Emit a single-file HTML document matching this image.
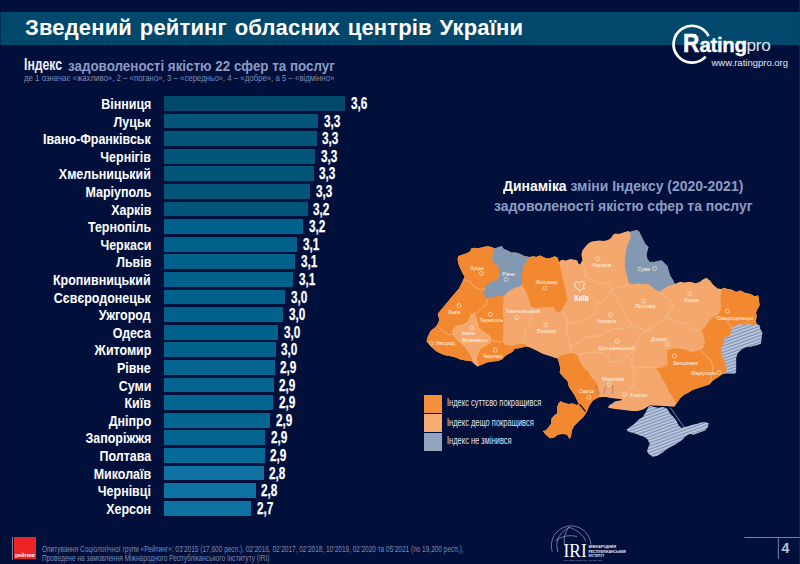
<!DOCTYPE html>
<html lang="uk"><head><meta charset="utf-8"><title>Зведений рейтинг обласних центрів України</title>
<style>
*{margin:0;padding:0;box-sizing:border-box}
html,body{width:800px;height:564px;overflow:hidden;background:#010f3b}
body{position:relative;font-family:"Liberation Sans",Arial,sans-serif;color:#fff}
.abs{position:absolute;white-space:nowrap;line-height:1}
#band{position:absolute;left:0;top:12px;width:800px;height:32.5px;background:#02486c}
#title{position:absolute;left:25px;top:17.2px;font-size:22px;font-weight:bold;line-height:1;letter-spacing:0.15px;word-spacing:1.6px;white-space:nowrap}
.bar{position:absolute;left:164px;height:14.8px}
.nm{position:absolute;right:649px;font-size:15px;font-weight:bold;line-height:1;white-space:nowrap;transform:scaleX(0.83);transform-origin:right center}
.vl{position:absolute;font-size:16px;font-weight:bold;line-height:1;white-space:nowrap;transform:scaleX(0.735);transform-origin:left center;-webkit-text-stroke:0.25px #fff}
.sx{display:inline-block;transform-origin:left center}
</style></head><body>
<div id="band"></div>
<div id="title">Зведений рейтинг обласних центрів України</div>
<div class="abs" style="left:24px;top:57px;font-size:16px;font-weight:bold;color:#eef0f6"><span class="sx" style="transform:scaleX(0.765)">Індекс</span></div>
<div class="abs" style="left:68px;top:57.6px;font-size:15px;font-weight:bold;color:#8c9bc3"><span class="sx" style="transform:scaleX(0.893)">задоволеності якістю 22 сфер та послуг</span></div>
<div class="abs" style="left:24px;top:74px;font-size:9px;color:#7f8db5"><span class="sx" style="transform:scaleX(0.87)">де 1 означає «жахливо», 2 – «погано», 3 – «середньо», 4 – «добре», а 5 – «відмінно»</span></div>
<div class="bar" style="top:96.0px;width:181.2px;background:rgb(1, 72, 107)"></div>
<div class="nm" style="top:95.95px">Вінниця</div>
<div class="vl" style="top:95.90px;left:350.8px">3,6</div>
<div class="bar" style="top:113.6px;width:153.9px;background:rgb(2, 85, 121)"></div>
<div class="nm" style="top:113.55px">Луцьк</div>
<div class="vl" style="top:113.50px;left:323.5px">3,3</div>
<div class="bar" style="top:131.2px;width:152.5px;background:rgb(2, 85, 121)"></div>
<div class="nm" style="top:131.15px">Івано-Франківськ</div>
<div class="vl" style="top:131.10px;left:322.1px">3,3</div>
<div class="bar" style="top:148.8px;width:151.1px;background:rgb(2, 85, 121)"></div>
<div class="nm" style="top:148.75px">Чернігів</div>
<div class="vl" style="top:148.70px;left:320.7px">3,3</div>
<div class="bar" style="top:166.4px;width:149.5px;background:rgb(2, 85, 121)"></div>
<div class="nm" style="top:166.35px">Хмельницький</div>
<div class="vl" style="top:166.30px;left:319.1px">3,3</div>
<div class="bar" style="top:184.0px;width:146.2px;background:rgb(2, 85, 121)"></div>
<div class="nm" style="top:183.95px">Маріуполь</div>
<div class="vl" style="top:183.90px;left:315.8px">3,3</div>
<div class="bar" style="top:201.6px;width:143.6px;background:rgb(2, 85, 121)"></div>
<div class="nm" style="top:201.55px">Харків</div>
<div class="vl" style="top:201.50px;left:313.2px">3,2</div>
<div class="bar" style="top:219.2px;width:139.0px;background:rgb(2, 97, 139)"></div>
<div class="nm" style="top:219.15px">Тернопіль</div>
<div class="vl" style="top:219.10px;left:308.6px">3,2</div>
<div class="bar" style="top:236.8px;width:133.0px;background:rgb(2, 97, 139)"></div>
<div class="nm" style="top:236.75px">Черкаси</div>
<div class="vl" style="top:236.70px;left:302.6px">3,1</div>
<div class="bar" style="top:254.4px;width:131.0px;background:rgb(2, 97, 139)"></div>
<div class="nm" style="top:254.35px">Львів</div>
<div class="vl" style="top:254.30px;left:300.6px">3,1</div>
<div class="bar" style="top:272.0px;width:128.9px;background:rgb(2, 97, 139)"></div>
<div class="nm" style="top:271.95px">Кропивницький</div>
<div class="vl" style="top:271.90px;left:298.5px">3,1</div>
<div class="bar" style="top:289.6px;width:121.2px;background:rgb(2, 97, 139)"></div>
<div class="nm" style="top:289.55px">Сєвєродонецьк</div>
<div class="vl" style="top:289.50px;left:290.8px">3,0</div>
<div class="bar" style="top:307.2px;width:118.9px;background:rgb(2, 97, 139)"></div>
<div class="nm" style="top:307.15px">Ужгород</div>
<div class="vl" style="top:307.10px;left:288.5px">3,0</div>
<div class="bar" style="top:324.8px;width:114.0px;background:rgb(2, 97, 139)"></div>
<div class="nm" style="top:324.75px">Одеса</div>
<div class="vl" style="top:324.70px;left:283.6px">3,0</div>
<div class="bar" style="top:342.4px;width:111.5px;background:rgb(2, 97, 139)"></div>
<div class="nm" style="top:342.35px">Житомир</div>
<div class="vl" style="top:342.30px;left:281.1px">3,0</div>
<div class="bar" style="top:360.0px;width:110.8px;background:rgb(4, 101, 145)"></div>
<div class="nm" style="top:359.95px">Рівне</div>
<div class="vl" style="top:359.90px;left:280.4px">2,9</div>
<div class="bar" style="top:377.6px;width:109.5px;background:rgb(4, 101, 145)"></div>
<div class="nm" style="top:377.55px">Суми</div>
<div class="vl" style="top:377.50px;left:279.1px">2,9</div>
<div class="bar" style="top:395.2px;width:109.3px;background:rgb(4, 101, 145)"></div>
<div class="nm" style="top:395.15px">Київ</div>
<div class="vl" style="top:395.10px;left:278.9px">2,9</div>
<div class="bar" style="top:412.8px;width:106.4px;background:rgb(4, 101, 145)"></div>
<div class="nm" style="top:412.75px">Дніпро</div>
<div class="vl" style="top:412.70px;left:276.0px">2,9</div>
<div class="bar" style="top:430.4px;width:100.9px;background:rgb(4, 101, 145)"></div>
<div class="nm" style="top:430.35px">Запоріжжя</div>
<div class="vl" style="top:430.30px;left:270.5px">2,9</div>
<div class="bar" style="top:448.0px;width:100.6px;background:rgb(6, 106, 152)"></div>
<div class="nm" style="top:447.95px">Полтава</div>
<div class="vl" style="top:447.90px;left:270.2px">2,9</div>
<div class="bar" style="top:465.6px;width:99.7px;background:rgb(15, 114, 163)"></div>
<div class="nm" style="top:465.55px">Миколаїв</div>
<div class="vl" style="top:465.50px;left:269.3px">2,8</div>
<div class="bar" style="top:483.2px;width:91.6px;background:rgb(15, 114, 163)"></div>
<div class="nm" style="top:483.15px">Чернівці</div>
<div class="vl" style="top:483.10px;left:261.2px">2,8</div>
<div class="bar" style="top:500.8px;width:87.1px;background:rgb(15, 114, 163)"></div>
<div class="nm" style="top:500.75px">Херсон</div>
<div class="vl" style="top:500.70px;left:256.7px">2,7</div><!-- Rating pro logo -->
<svg width="800" height="564" viewBox="0 0 800 564" style="position:absolute;left:0;top:0">
<path d="M708.6,36.2 A18.45,18.45 0 1 0 705.65,56.67" fill="none" stroke="#fff" stroke-width="2.7"/>
</svg>
<div class="abs" style="left:683.4px;top:30.9px;font-size:25px;font-weight:bold;color:#fff;-webkit-text-stroke:0.5px #fff"><span class="sx" style="transform:scaleX(0.9)">R</span></div>
<div class="abs" style="left:699.6px;top:34.7px;font-size:20.5px;font-weight:bold;color:#fff;letter-spacing:-0.4px;-webkit-text-stroke:0.35px #fff">ating</div>
<div class="abs" style="left:746.6px;top:36.8px;font-size:17.2px;color:#dde2ec;letter-spacing:-0.3px">pro</div>
<div class="abs" style="left:711.5px;top:58.2px;font-size:9.5px;color:#e4e8f0">www.ratingpro.org</div>
<!-- map title -->
<div class="abs" style="left:503px;top:178px;font-size:15.5px;font-weight:bold;color:#fff"><span class="sx" style="transform:scaleX(0.9)">Динаміка <span style="color:#8d9cc2">зміни Індексу (2020-2021)</span></span></div>
<div class="abs" style="left:494px;top:198.4px;font-size:15.5px;font-weight:bold;color:#8d9cc2"><span class="sx" style="transform:scaleX(0.9)">задоволеності якістю сфер та послуг</span></div>
<svg width="800" height="564" viewBox="0 0 800 564" style="position:absolute;left:0;top:0">
<defs><pattern id="st" width="10" height="3" patternUnits="userSpaceOnUse" patternTransform="rotate(-20)"><rect width="10" height="3" fill="#c2cfe3"/><rect y="1.6" width="10" height="1.4" fill="#8193b5"/></pattern></defs>
<path d="M471.1,248.5 L474.6,247.8 L478.2,248.5 L483.2,247.1 L487.4,246.3 L491.7,247.1 L494.5,248.5 L497.3,247.8 L501.6,246.3 L503.7,249.2 L507.3,250.6 L511.5,252.7 L515.8,252.7 L520.0,254.1 L524.3,256.3 L528.5,257.0 L533.4,256.3 L536.3,257.0 L539.8,255.6 L543.4,257.0 L546.9,258.4 L551.2,257.7 L554.7,256.3 L557.6,257.7 L559.0,262.0 L561.8,259.8 L566.1,260.5 L570.3,259.1 L574.6,259.8 L577.4,260.5 L578.2,263.3 L580.3,264.4 L582.4,260.1 L581.4,254.8 L582.4,250.5 L585.6,246.3 L588.8,243.1 L592.0,241.5 L595.2,241.0 L599.5,240.4 L603.7,241.0 L608.0,239.9 L611.2,237.8 L613.3,234.6 L615.4,233.5 L618.6,234.0 L621.8,233.0 L625.0,231.9 L628.2,230.9 L630.3,231.9 L633.5,230.9 L636.7,230.3 L638.8,231.4 L641.0,235.6 L643.1,239.9 L645.2,244.1 L648.4,247.3 L647.3,250.5 L646.3,254.8 L647.3,259.0 L649.5,262.2 L654.6,262.0 L661.7,260.5 L664.6,263.4 L667.4,266.2 L668.8,271.9 L670.2,276.1 L673.1,280.4 L674.5,283.9 L680.2,281.8 L684.4,282.5 L690.1,281.8 L695.8,283.2 L700.0,281.8 L702.0,279.9 L706.3,277.8 L709.9,280.6 L713.4,284.9 L717.7,288.4 L721.9,289.1 L723.4,287.7 L727.6,289.1 L731.9,289.8 L736.1,292.0 L740.4,290.5 L744.7,292.7 L750.3,294.1 L754.6,296.2 L758.2,295.5 L758.9,299.8 L759.6,305.5 L757.4,309.0 L756.0,312.6 L756.7,316.1 L755.9,320.7 L756.6,324.2 L759.4,325.6 L760.1,329.2 L762.2,332.7 L761.5,336.3 L760.8,343.4 L757.3,344.8 L751.6,346.2 L745.9,346.9 L741.7,349.0 L737.4,353.3 L736.0,357.6 L736.0,363.2 L736.0,368.9 L735.3,373.2 L726.1,373.2 L721.8,374.6 L717.6,377.4 L713.3,380.2 L709.0,384.5 L704.8,385.9 L700.5,387.3 L696.3,388.8 L692.0,390.2 L687.8,393.0 L684.4,394.5 L680.1,398.2 L677.3,402.5 L674.4,406.7 L668.0,406.3 L660.0,405.8 L653.0,405.4 L650.3,405.3 L647.5,406.7 L643.2,409.6 L637.6,411.0 L631.9,411.0 L622.2,409.8 L615.1,409.1 L608.0,407.7 L609.4,404.9 L612.3,403.4 L615.1,401.3 L620.8,400.6 L622.2,399.2 L615.1,398.5 L609.4,397.8 L606.6,397.1 L599.5,397.3 L598.5,397.5 L595.5,399.0 L592.5,401.0 L589.5,405.5 L586.7,412.0 L583.9,416.2 L579.6,420.5 L576.8,423.3 L574.0,426.1 L571.8,430.4 L571.1,436.1 L569.7,438.9 L566.9,434.6 L562.6,433.9 L558.4,434.6 L554.1,437.5 L549.9,438.2 L545.6,434.6 L542.8,431.1 L545.6,430.4 L548.4,427.6 L551.3,423.3 L551.3,419.0 L554.1,415.5 L557.0,413.4 L557.0,407.7 L558.4,403.4 L560.5,401.3 L564.0,402.7 L568.3,404.1 L572.6,403.4 L576.8,404.9 L578.8,403.8 L577.4,401.0 L574.6,395.3 L571.7,391.1 L568.9,386.8 L567.5,381.1 L563.2,376.9 L559.7,372.6 L560.4,368.4 L559.0,362.7 L557.6,358.4 L554.7,357.7 L550.5,356.3 L546.2,354.9 L542.0,353.5 L536.3,350.6 L530.6,347.8 L526.3,346.4 L518.8,348.2 L514.6,348.7 L512.4,351.9 L508.2,354.0 L505.0,356.2 L501.8,359.4 L497.6,361.0 L492.2,361.5 L486.9,362.6 L481.6,364.7 L477.9,366.3 L474.1,363.6 L471.0,361.0 L465.6,360.4 L460.3,359.4 L455.0,357.2 L452.1,356.6 L444.1,355.0 L437.0,351.8 L431.4,347.0 L429.0,343.8 L426.6,341.4 L427.4,337.4 L430.6,331.0 L434.6,327.8 L437.0,325.5 L439.4,319.9 L437.8,314.3 L438.6,312.7 L444.1,306.3 L451.3,297.5 L459.0,288.5 L463.3,279.7 L464.7,276.8 L462.6,273.3 L459.8,267.6 L458.3,263.4 L457.6,259.1 L458.3,256.3 L461.2,254.9 L466.1,253.4 L470.4,251.3 Z" fill="#f4a86e"/>
<path d="M529.2,257.7 L524.9,263.4 L522.8,270.5 L521.7,275.3 L522.1,280.6 L521.7,285.1 L518.1,286.8 L515.5,287.3 L511.9,289.1 L508.4,291.3 L505.7,293.9 L503.9,295.7 L503.5,300.1 L503.0,305.5 L502.6,309.9 L503.0,314.3 L503.5,320.0 L503.4,330.6 L502.9,341.3 L503.9,344.5 L508.2,345.5 L512.4,345.5 L516.7,344.5 L521.0,343.9 L525.2,343.4 L526.3,346.4 L518.8,348.2 L514.6,348.7 L512.4,351.9 L508.2,354.0 L505.0,356.2 L501.8,359.4 L497.6,361.0 L492.2,361.5 L486.9,362.6 L481.6,364.7 L477.9,366.3 L474.1,363.6 L471.0,361.0 L465.6,360.4 L460.3,359.4 L455.0,357.2 L452.1,356.6 L444.1,355.0 L437.0,351.8 L431.4,347.0 L429.0,343.8 L426.6,341.4 L427.4,337.4 L430.6,331.0 L434.6,327.8 L437.0,325.5 L439.4,319.9 L437.8,314.3 L438.6,312.7 L444.1,306.3 L451.3,297.5 L459.0,288.5 L463.3,279.7 L464.7,276.8 L462.6,273.3 L459.8,267.6 L458.3,263.4 L457.6,259.1 L458.3,256.3 L461.2,254.9 L466.1,253.4 L470.4,251.3 L471.1,248.5 L474.6,247.8 L478.2,248.5 L483.2,247.1 L487.4,246.3 L491.7,247.1 L494.5,248.5 L497.3,247.8 L501.6,246.3 L503.7,249.2 L507.3,250.6 L511.5,252.7 L515.8,252.7 L520.0,254.1 L524.3,256.3 L528.5,257.0 Z" fill="#f28930"/>
<path d="M471.1,314.3 L474.2,313.7 L476.0,318.0 L477.3,322.4 L478.5,327.3 L482.2,331.1 L486.0,333.5 L489.7,336.0 L490.9,339.8 L489.7,342.9 L484.7,346.0 L481.0,348.4 L478.5,350.9 L477.3,354.7 L476.0,358.4 L477.3,362.1 L477.9,366.3 L474.1,363.6 L472.3,358.4 L469.8,353.4 L467.3,349.7 L464.2,346.0 L461.1,342.9 L457.4,339.8 L453.7,336.0 L452.4,332.3 L453.7,328.6 L457.4,326.1 L462.4,324.8 L467.3,322.4 L469.8,318.6 Z" fill="#f4a86e" stroke="#f8c9a2" stroke-width="0.5"/>
<path d="M494.5,248.5 L497.3,247.8 L501.6,246.3 L503.7,249.2 L507.3,250.6 L511.5,252.7 L515.8,252.7 L520.0,254.1 L524.3,256.3 L528.5,257.0 L529.2,257.7 L524.9,263.4 L522.8,270.5 L521.7,275.3 L522.1,280.6 L521.7,285.1 L518.1,286.8 L515.5,287.3 L511.9,289.1 L508.4,291.3 L505.7,293.9 L503.9,295.7 L500.4,294.8 L497.7,295.3 L494.2,296.6 L490.6,297.5 L488.0,298.4 L486.2,297.5 L484.4,294.8 L484.4,292.2 L485.3,288.6 L485.3,286.0 L488.9,283.3 L493.3,281.5 L497.7,280.6 L498.6,278.0 L499.5,273.5 L499.5,269.0 L498.8,265.5 L494.5,263.4 L492.4,259.1 L493.1,252.0 Z" fill="#8398b2" stroke="#8398b2" stroke-width="0.4"/>
<path d="M529.2,257.7 L533.4,256.3 L536.3,257.0 L539.8,255.6 L543.4,257.0 L546.9,258.4 L551.2,257.7 L554.7,256.3 L557.6,257.7 L559.0,262.0 L560.4,267.6 L561.8,274.7 L563.2,280.0 L564.6,285.7 L566.0,292.8 L567.4,299.9 L566.0,302.7 L563.2,307.0 L561.7,310.5 L558.9,312.6 L556.1,311.9 L553.9,307.0 L547.6,307.0 L537.6,307.7 L531.4,307.2 L530.1,304.6 L529.2,300.1 L527.9,295.7 L526.1,291.3 L523.4,287.7 L521.7,285.1 L522.1,280.6 L521.7,275.3 L522.8,270.5 L524.9,263.4 Z" fill="#f28930"/>
<path d="M557.6,358.4 L560.0,355.5 L566.4,353.9 L571.7,352.9 L573.8,353.4 L577.0,355.5 L578.6,358.7 L580.2,361.9 L582.3,366.2 L585.5,369.4 L588.7,371.5 L589.8,374.7 L591.9,377.9 L594.5,380.5 L597.2,383.5 L598.3,388.0 L598.6,393.0 L598.5,397.5 L595.5,399.0 L592.5,401.0 L589.5,405.5 L586.7,412.0 L583.9,416.2 L579.6,420.5 L576.8,423.3 L574.0,426.1 L571.8,430.4 L571.1,436.1 L569.7,438.9 L566.9,434.6 L562.6,433.9 L558.4,434.6 L554.1,437.5 L549.9,438.2 L545.6,434.6 L542.8,431.1 L545.6,430.4 L548.4,427.6 L551.3,423.3 L551.3,419.0 L554.1,415.5 L557.0,413.4 L557.0,407.7 L558.4,403.4 L560.5,401.3 L564.0,402.7 L568.3,404.1 L572.6,403.4 L576.8,404.9 L578.8,403.8 L577.4,401.0 L574.6,395.3 L571.7,391.1 L568.9,386.8 L567.5,381.1 L563.2,376.9 L559.7,372.6 L560.4,368.4 L559.0,362.7 L557.6,358.4 Z" fill="#f28930"/>
<path d="M656.0,368.4 L661.7,367.7 L668.0,364.2 L667.3,361.3 L667.3,350.0 L675.0,348.3 L680.7,349.0 L686.3,349.8 L690.6,351.9 L696.3,351.2 L700.5,349.8 L704.1,347.6 L704.8,342.0 L703.4,334.9 L701.2,329.2 L703.5,329.6 L706.3,325.3 L709.1,321.1 L713.4,316.8 L717.7,314.7 L720.5,311.1 L721.2,305.5 L720.5,296.9 L721.9,289.1 L723.4,287.7 L727.6,289.1 L731.9,289.8 L736.1,292.0 L740.4,290.5 L744.7,292.7 L750.3,294.1 L754.6,296.2 L758.2,295.5 L758.9,299.8 L759.6,305.5 L757.4,309.0 L756.0,312.6 L756.7,316.1 L755.9,320.7 L756.6,324.2 L751.6,325.6 L747.3,322.8 L743.1,325.6 L740.2,323.5 L737.4,325.6 L731.7,327.8 L731.7,333.4 L728.9,336.3 L724.6,337.7 L723.9,343.4 L721.1,349.0 L722.5,356.1 L724.6,360.4 L726.8,367.5 L726.1,373.2 L721.8,374.6 L717.6,377.4 L713.3,380.2 L709.0,384.5 L704.8,385.9 L700.5,387.3 L696.3,388.8 L692.0,390.2 L687.8,393.0 L684.4,394.5 L680.1,398.2 L677.3,402.5 L674.4,406.7 L675.9,403.9 L674.4,399.6 L671.6,395.4 L668.8,391.1 L667.3,386.9 L664.5,382.6 L661.7,378.4 L660.2,374.1 Z" fill="#f28930"/>
<path d="M731.7,327.8 L737.4,325.6 L740.2,323.5 L743.1,325.6 L747.3,322.8 L751.6,325.6 L756.6,324.2 L759.4,325.6 L760.1,329.2 L762.2,332.7 L761.5,336.3 L760.8,343.4 L757.3,344.8 L751.6,346.2 L745.9,346.9 L741.7,349.0 L737.4,353.3 L736.0,357.6 L736.0,363.2 L736.0,368.9 L735.3,373.2 L726.1,373.2 L726.8,367.5 L724.6,360.4 L722.5,356.1 L721.1,349.0 L723.9,343.4 L724.6,337.7 L728.9,336.3 L731.7,333.4 Z" fill="url(#st)" stroke="#9fb0cb" stroke-width="0.4"/>
<path d="M630.3,231.9 L633.5,230.9 L636.7,230.3 L638.8,231.4 L641.0,235.6 L643.1,239.9 L645.2,244.1 L648.4,247.3 L647.3,250.5 L646.3,254.8 L647.3,259.0 L649.5,262.2 L654.6,262.0 L661.7,260.5 L664.6,263.4 L667.4,266.2 L668.8,271.9 L670.2,276.1 L673.1,280.4 L674.5,283.9 L667.4,286.1 L663.2,288.9 L658.9,291.7 L656.1,290.3 L653.2,287.5 L647.6,283.2 L643.3,283.9 L637.6,283.2 L633.4,283.9 L629.1,283.2 L628.2,280.3 L627.1,275.0 L625.5,269.7 L625.0,263.3 L625.5,256.9 L626.1,251.6 L627.1,246.3 L630.9,237.8 Z" fill="#8398b2" stroke="#8398b2" stroke-width="0.4"/>
<path d="M648.4,407.0 L650.5,405.6 L654.0,407.0 L658.3,407.7 L662.6,407.0 L666.8,408.2 L670.3,413.7 L673.5,416.9 L676.7,420.9 L678.3,424.9 L681.5,428.1 L684.5,426.9 L688.1,426.2 L692.3,424.8 L696.6,424.0 L700.9,422.6 L705.1,421.9 L708.7,423.3 L708.0,426.9 L705.1,430.4 L699.4,432.6 L693.8,434.7 L689.5,434.0 L685.2,436.8 L681.0,441.1 L675.3,444.6 L668.2,448.2 L662.6,452.4 L656.9,456.0 L652.6,456.7 L648.4,453.8 L647.0,451.0 L648.4,446.7 L649.8,443.9 L647.7,439.6 L644.1,436.8 L639.9,435.4 L634.2,433.3 L628.5,431.8 L626.4,429.7 L629.9,426.9 L634.2,424.0 L638.4,419.8 L642.7,417.0 L645.5,412.7 Z" fill="url(#st)"/>
<path d="M463.3,279.7 L466.1,280.4 L470.4,281.8 L473.2,286.1 L477.5,288.2 L481.0,289.6 L485.3,288.6" fill="none" stroke="#f8c9a2" stroke-width="0.55"/>
<path d="M488.0,298.4 L486.0,305.0 L481.0,308.7 L477.3,312.4 L474.2,313.7" fill="none" stroke="#f8c9a2" stroke-width="0.55"/>
<path d="M437.0,325.5 L440.0,329.0 L445.0,332.0 L448.0,334.5 L452.4,334.5" fill="none" stroke="#f8c9a2" stroke-width="0.55"/>
<path d="M490.9,339.8 L494.7,341.0 L499.6,342.2 L502.9,341.3" fill="none" stroke="#f8c9a2" stroke-width="0.55"/>
<path d="M531.4,307.2 L532.0,316.9 L530.5,322.6 L526.3,328.2 L524.9,333.9 L523.4,341.0 L525.2,343.4" fill="none" stroke="#f8c9a2" stroke-width="0.55"/>
<path d="M561.7,310.5 L564.3,314.7 L566.4,318.0 L567.4,323.2 L566.4,330.0 L567.4,335.3 L568.5,340.6 L569.6,344.9 L570.6,349.1 L571.7,352.9" fill="none" stroke="#f8c9a2" stroke-width="0.55"/>
<path d="M581.8,262.0 L584.5,269.0 L585.5,276.4 L589.8,278.5 L594.0,280.6 L596.2,283.8 L600.4,283.8 L604.7,282.8 L607.9,283.8 L610.0,287.0 L612.1,289.1 L617.4,288.1 L622.8,286.5 L627.0,284.9 L629.1,283.2" fill="none" stroke="#f8c9a2" stroke-width="0.55"/>
<path d="M612.1,289.1 L610.0,292.3 L607.9,295.5 L605.7,298.7 L602.6,300.9 L599.4,303.0 L596.2,304.0 L595.1,310.4 L594.0,314.7 L590.9,316.8 L585.5,318.9 L579.1,321.1 L572.8,323.2 L567.4,323.2" fill="none" stroke="#f8c9a2" stroke-width="0.55"/>
<path d="M612.1,290.0 L614.9,295.6 L617.7,301.3 L622.0,307.0 L624.8,314.0 L629.0,321.1 L631.9,325.4 L637.6,328.2 L643.2,329.6 L647.5,330.4 L653.2,326.8 L657.4,322.6 L663.1,319.7 L666.0,317.5" fill="none" stroke="#f8c9a2" stroke-width="0.55"/>
<path d="M631.9,325.4 L630.5,326.8 L626.2,328.2 L622.0,329.0 L616.3,328.2 L612.0,329.6 L607.8,331.1 L603.5,333.2 L599.0,335.8 L592.0,336.4 L585.5,337.5 L581.3,340.6 L576.0,343.8 L570.6,348.1" fill="none" stroke="#f8c9a2" stroke-width="0.55"/>
<path d="M656.1,290.3 L661.7,294.0 L665.9,296.5 L670.2,300.0 L673.0,304.1 L672.3,308.4 L668.8,312.6 L666.0,317.5 L668.8,318.3 L674.4,320.4 L680.1,322.6 L685.8,323.5 L690.6,327.8 L696.3,330.6 L701.2,329.2" fill="none" stroke="#f8c9a2" stroke-width="0.55"/>
<path d="M647.5,330.4 L640.4,335.3 L637.6,339.6 L636.1,345.2 L634.7,350.9" fill="none" stroke="#f8c9a2" stroke-width="0.55"/>
<path d="M578.6,355.0 L584.5,353.4 L589.8,352.3 L595.1,351.8 L600.4,352.9 L604.7,353.9 L607.9,356.6 L608.9,360.9 L611.1,362.4 L615.3,361.9 L619.6,360.9 L623.8,358.7 L627.0,355.5 L630.2,353.4 L634.7,350.9" fill="none" stroke="#f8c9a2" stroke-width="0.55"/>
<path d="M634.7,350.9 L632.0,357.0 L631.5,362.0 L633.0,368.0 L634.0,374.0 L634.0,380.0 L632.5,386.0 L629.5,390.5 L626.0,394.5 L622.5,399.2" fill="none" stroke="#f8c9a2" stroke-width="0.55"/>
<path d="M633.0,368.0 L641.8,367.7 L648.9,367.0 L656.0,368.4" fill="none" stroke="#f8c9a2" stroke-width="0.55"/>
<path d="M713.4,316.8 L720.5,318.2 L726.2,319.7 L729.0,323.9 L731.7,327.8" fill="none" stroke="#f8c9a2" stroke-width="0.55"/>
<path d="M700.5,349.8 L704.8,354.7 L710.5,360.4 L713.3,367.5 L711.9,374.6 L710.5,380.2 L709.0,384.5" fill="none" stroke="#f8c9a2" stroke-width="0.55"/>
<path d="M670.3,407.6 L684.7,428.1" fill="none" stroke="#a9b7d0" stroke-width="0.7"/>
<path d="M579.3,404.2 L582,407 L585.6,411.6" fill="none" stroke="#0a1b48" stroke-width="1.3"/>
<path d="M603.8,393.5 L605,389 L606.6,385 M595.2,385 L597.5,390 L599.5,394.9 M612.3,385 L613,390 L612,394" fill="none" stroke="#5f7498" stroke-width="0.6"/>
<path d="M574.5,283.4 L577,281.2 L579.3,283.6 L582.2,281 L584.6,283.2 L583.2,286.4 L584.8,288.6 L581.2,289.4 L579.4,291.8 L577.6,288.4 L575,287.2 Z" fill="none" stroke="#fff5ec" stroke-width="0.8"/>
<text x="574.3" y="300.8" font-family="Liberation Sans, sans-serif" font-weight="bold" font-size="8.6" fill="#fff" textLength="14.3" lengthAdjust="spacingAndGlyphs">Київ</text>
<circle cx="481.5" cy="273.3" r="2" fill="none" stroke="#fff1e4" stroke-width="0.6"/>
<text x="470.1" y="269.8" font-family="Liberation Sans, sans-serif" font-size="5.1" fill="#fff3e8">Луцьк</text>
<circle cx="506.1" cy="279.4" r="2" fill="none" stroke="#fff1e4" stroke-width="0.6"/>
<text x="502.3" y="276.1" font-family="Liberation Sans, sans-serif" font-size="5.1" fill="#fff3e8">Рівне</text>
<circle cx="458.9" cy="305.6" r="2" fill="none" stroke="#fff1e4" stroke-width="0.6"/>
<text x="448" y="314.3" font-family="Liberation Sans, sans-serif" font-size="5.1" fill="#fff3e8">Львів</text>
<circle cx="490.3" cy="314.3" r="2" fill="none" stroke="#fff1e4" stroke-width="0.6"/>
<text x="479.5" y="322.1" font-family="Liberation Sans, sans-serif" font-size="5.1" fill="#fff3e8">Тернопіль</text>
<circle cx="471.7" cy="328" r="2" fill="none" stroke="#fff1e4" stroke-width="0.6"/>
<text x="461.7" y="335.4" font-family="Liberation Sans, sans-serif" font-size="5.1" fill="#fff3e8">Івано-</text>
<text x="461.7" y="341.6" font-family="Liberation Sans, sans-serif" font-size="5.1" fill="#fff3e8">Франківськ</text>
<circle cx="431.4" cy="343.5" r="2" fill="none" stroke="#fff1e4" stroke-width="0.6"/>
<text x="435.4" y="345.4" font-family="Liberation Sans, sans-serif" font-size="5.1" fill="#fff3e8">Ужгород</text>
<circle cx="495.3" cy="350.3" r="2" fill="none" stroke="#fff1e4" stroke-width="0.6"/>
<text x="482.9" y="358.4" font-family="Liberation Sans, sans-serif" font-size="5.1" fill="#fff3e8">Чернівці</text>
<circle cx="544.7" cy="288.1" r="2" fill="none" stroke="#fff1e4" stroke-width="0.6"/>
<text x="535.5" y="284.3" font-family="Liberation Sans, sans-serif" font-size="5.1" fill="#fff3e8">Житомир</text>
<circle cx="516.6" cy="317.6" r="2" fill="none" stroke="#fff1e4" stroke-width="0.6"/>
<text x="505.7" y="313.4" font-family="Liberation Sans, sans-serif" font-size="5.1" fill="#fff3e8">Хмельницький</text>
<circle cx="545.9" cy="325.1" r="2" fill="none" stroke="#fff1e4" stroke-width="0.6"/>
<text x="537" y="332.5" font-family="Liberation Sans, sans-serif" font-size="5.1" fill="#fff3e8">Вінниця</text>
<circle cx="597.9" cy="258.8" r="2" fill="none" stroke="#fff1e4" stroke-width="0.6"/>
<text x="592.6" y="266.5" font-family="Liberation Sans, sans-serif" font-size="5.1" fill="#fff3e8">Чернігів</text>
<circle cx="654.6" cy="268.6" r="2" fill="none" stroke="#fff1e4" stroke-width="0.6"/>
<text x="637.6" y="271" font-family="Liberation Sans, sans-serif" font-size="5.1" fill="#fff3e8">Суми</text>
<circle cx="689.8" cy="293.6" r="2" fill="none" stroke="#fff1e4" stroke-width="0.6"/>
<text x="683.7" y="302.4" font-family="Liberation Sans, sans-serif" font-size="5.1" fill="#fff3e8">Харків</text>
<circle cx="643.5" cy="301" r="2" fill="none" stroke="#fff1e4" stroke-width="0.6"/>
<text x="635.4" y="308.4" font-family="Liberation Sans, sans-serif" font-size="5.1" fill="#fff3e8">Полтава</text>
<circle cx="610.3" cy="314.8" r="2" fill="none" stroke="#fff1e4" stroke-width="0.6"/>
<text x="596.4" y="322.6" font-family="Liberation Sans, sans-serif" font-size="5.1" fill="#fff3e8">Черкаси</text>
<circle cx="617" cy="341.3" r="2" fill="none" stroke="#fff1e4" stroke-width="0.6"/>
<text x="598.5" y="350.2" font-family="Liberation Sans, sans-serif" font-size="5.1" fill="#fff3e8">Кропивницький</text>
<circle cx="667.3" cy="344.1" r="2" fill="none" stroke="#fff1e4" stroke-width="0.6"/>
<text x="651" y="341" font-family="Liberation Sans, sans-serif" font-size="5.1" fill="#fff3e8">Дніпро</text>
<circle cx="674.4" cy="356" r="2" fill="none" stroke="#fff1e4" stroke-width="0.6"/>
<text x="672.7" y="364.9" font-family="Liberation Sans, sans-serif" font-size="5.1" fill="#fff3e8">Запоріжжя</text>
<circle cx="719" cy="372.4" r="2" fill="none" stroke="#fff1e4" stroke-width="0.6"/>
<text x="691.3" y="374.6" font-family="Liberation Sans, sans-serif" font-size="5.1" fill="#fff3e8">Маріуполь</text>
<circle cx="727.3" cy="311.1" r="2" fill="none" stroke="#fff1e4" stroke-width="0.6"/>
<text x="717" y="319.7" font-family="Liberation Sans, sans-serif" font-size="5.1" fill="#fff3e8">Сєвєродонецьк</text>
<circle cx="588.8" cy="397.4" r="2" fill="none" stroke="#fff1e4" stroke-width="0.6"/>
<text x="578.8" y="393.2" font-family="Liberation Sans, sans-serif" font-size="5.1" fill="#fff3e8">Одеса</text>
<circle cx="609" cy="384.4" r="2" fill="none" stroke="#fff1e4" stroke-width="0.6"/>
<text x="602" y="381" font-family="Liberation Sans, sans-serif" font-size="5.1" fill="#fff3e8">Миколаїв</text>
<circle cx="624.5" cy="394.3" r="2" fill="none" stroke="#fff1e4" stroke-width="0.6"/>
<text x="629.8" y="396.8" font-family="Liberation Sans, sans-serif" font-size="5.1" fill="#fff3e8">Херсон</text>
</svg>
<!-- legend -->
<div style="position:absolute;left:424px;top:394.8px;width:17.6px;height:18.1px;background:#f5903a"></div>
<div style="position:absolute;left:424px;top:414.2px;width:17.6px;height:17.8px;background:#f7ad72"></div>
<div style="position:absolute;left:424px;top:432.9px;width:17.6px;height:17.9px;background:#93a4c0"></div>
<div class="abs" style="left:447px;top:398.4px;font-size:10px;color:#e0e4ee"><span class="sx" style="transform:scaleX(0.75)">Індекс суттєво покращився</span></div>
<div class="abs" style="left:447px;top:417.6px;font-size:10px;color:#e0e4ee"><span class="sx" style="transform:scaleX(0.75)">Індекс дещо покращився</span></div>
<div class="abs" style="left:447px;top:436.2px;font-size:10px;color:#e0e4ee"><span class="sx" style="transform:scaleX(0.75)">Індекс не змінився</span></div>
<!-- footer -->
<div style="position:absolute;left:12px;top:537px;width:0.9px;height:22.5px;background:#7886a6"></div>
<div style="position:absolute;left:13.8px;top:536.8px;width:22.2px;height:22.6px;background:#ec2426"></div>
<div class="abs" style="left:15.3px;top:552.4px;font-size:6.2px;font-weight:bold;color:#fff"><span class="sx" style="transform:scaleX(0.85)">рейтинг</span></div>
<div class="abs" style="left:41.5px;top:544.6px;font-size:8.5px;color:#7e8bb1"><span class="sx" style="transform:scaleX(0.765)">Опитування Соціологічної групи «Рейтинг»: 03’2015 (17,600 респ.), 02’2016, 02’2017, 02’2018, 10’2019, 02’2020 та 05’2021 (по 19,200 респ.),</span></div>
<div class="abs" style="left:41.5px;top:553.6px;font-size:8.5px;color:#7e8bb1"><span class="sx" style="transform:scaleX(0.77)">Проведене на замовлення Міжнародного Республіканського Інституту (IRI)</span></div>
<!-- IRI logo -->
<svg width="800" height="564" viewBox="0 0 800 564" style="position:absolute;left:0;top:0">
<g fill="none" stroke="#8e99bb" stroke-width="0.75">
<path d="M552.2,551.5 A19.8,19.8 0 1 1 590.9,544.5"/>
<path d="M569,527.2 Q553,536 557.8,552"/>
<path d="M569,527.2 Q562,536 565,546"/>
<path d="M555.5,540.5 Q566,533.5 577,536.5"/>
<path d="M569,527.2 Q581,531 586,541"/>
</g>
<text x="563.5" y="557.4" font-family="Liberation Serif, serif" font-size="18.6" fill="#fff" textLength="23.2" lengthAdjust="spacingAndGlyphs">IRI</text>
<text x="588.4" y="548.1" font-family="Liberation Sans, sans-serif" font-weight="bold" font-size="3.5" fill="#e8ecf4" textLength="27.6" lengthAdjust="spacingAndGlyphs">МІЖНАРОДНИЙ</text>
<text x="588.4" y="552.6" font-family="Liberation Sans, sans-serif" font-weight="bold" font-size="3.5" fill="#e8ecf4" textLength="37.5" lengthAdjust="spacingAndGlyphs">РЕСПУБЛІКАНСЬКИЙ</text>
<text x="588.4" y="557.1" font-family="Liberation Sans, sans-serif" font-weight="bold" font-size="3.5" fill="#e8ecf4" textLength="16" lengthAdjust="spacingAndGlyphs">ІНСТИТУТ</text>
<text x="563.5" y="561" font-family="Liberation Sans, sans-serif" font-size="2.4" fill="#8d98bc" textLength="39" lengthAdjust="spacingAndGlyphs">Програма демократії у всьому світі</text>
<path d="M744.4,537.5 L800,537.5 M778.4,537.5 L778.4,559" stroke="#8e99bd" stroke-width="0.8" fill="none"/>
<text x="781.4" y="553.2" font-family="Liberation Sans, sans-serif" font-weight="bold" font-size="14.2" fill="#b9c1dc">4</text>
</svg>
<div style="position:absolute;left:799px;top:0;width:1px;height:564px;background:rgba(40,50,80,0.5)"></div><div style="position:absolute;left:0;top:0;width:1px;height:564px;background:rgba(0,5,35,0.4)"></div>
</body></html>
